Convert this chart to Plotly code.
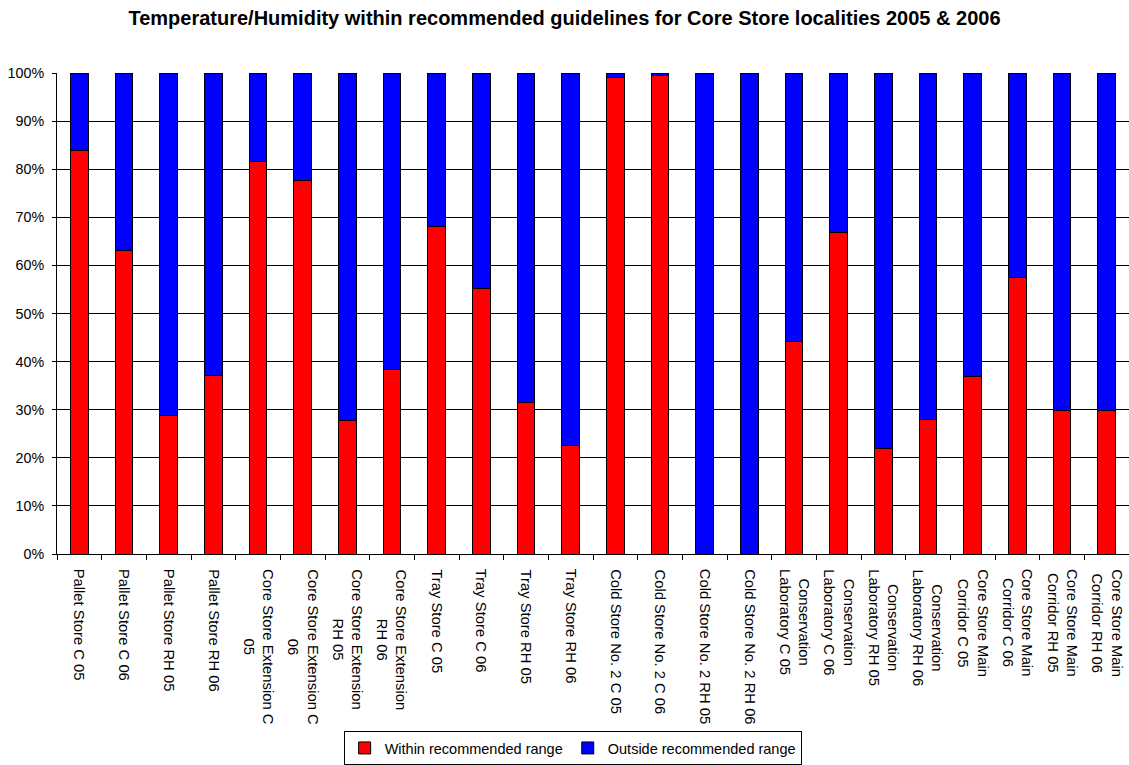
import plotly.graph_objects as go

# Monitoring localities (one bar each)
categories = [
    "Pallet Store C 05", "Pallet Store C 06", "Pallet Store RH 05", "Pallet Store RH 06",
    "Core Store Extension C 05", "Core Store Extension C 06",
    "Core Store Extension RH 05", "Core Store Extension RH 06",
    "Tray Store C 05", "Tray Store C 06", "Tray Store RH 05", "Tray Store RH 06",
    "Cold Store No. 2 C 05", "Cold Store No. 2 C 06",
    "Cold Store No. 2 RH 05", "Cold Store No. 2 RH 06",
    "Conservation Laboratory C 05", "Conservation Laboratory C 06",
    "Conservation Laboratory RH 05", "Conservation Laboratory RH 06",
    "Core Store Main Corridor C 05", "Core Store Main Corridor C 06",
    "Core Store Main Corridor RH 05", "Core Store Main Corridor RH 06",
]

# Axis labels as they wrap under the bars
tick_labels = [
    "Pallet Store C 05", "Pallet Store C 06", "Pallet Store RH 05", "Pallet Store RH 06",
    "Core Store Extension C<br>05", "Core Store Extension C<br>06",
    "Core Store Extension<br>RH 05", "Core Store Extension<br>RH 06",
    "Tray Store C 05", "Tray Store C 06", "Tray Store RH 05", "Tray Store RH 06",
    "Cold Store No. 2 C 05", "Cold Store No. 2 C 06",
    "Cold Store No. 2 RH 05", "Cold Store No. 2 RH 06",
    "Conservation<br>Laboratory C 05", "Conservation<br>Laboratory C 06",
    "Conservation<br>Laboratory RH 05", "Conservation<br>Laboratory RH 06",
    "Core Store Main<br>Corridor C 05", "Core Store Main<br>Corridor C 06",
    "Core Store Main<br>Corridor RH 05", "Core Store Main<br>Corridor RH 06",
]

# Percentage of readings within / outside the recommended range
within = [83.8, 63.1, 28.7, 37.2, 81.5, 77.7, 27.8, 38.4,
          68.0, 55.2, 31.5, 22.6, 99.0, 99.4, 0.0, 0.0,
          44.1, 66.8, 21.9, 28.0, 37.0, 57.4, 29.9, 29.8]
outside = [16.2, 36.9, 71.3, 62.8, 18.5, 22.3, 72.2, 61.6,
           32.0, 44.8, 68.5, 77.4, 1.0, 0.6, 100.0, 100.0,
           55.9, 33.2, 78.1, 72.0, 63.0, 42.6, 70.1, 70.2]

FONT = "Arial, 'Liberation Sans', sans-serif"

fig = go.Figure()
fig.add_trace(go.Bar(
    x=categories, y=within, name="Within recommended range",
    marker=dict(color="#FF0000", line=dict(color="black", width=1)),
))
fig.add_trace(go.Bar(
    x=categories, y=outside, name="Outside recommended range",
    marker=dict(color="#0000FF", line=dict(color="black", width=1)),
))

# Rotated category labels, lines centred within each label
for cat, lab in zip(categories, tick_labels):
    fig.add_annotation(
        x=cat, xref="x", y=-0.027, yref="paper",
        text=lab, textangle=90, showarrow=False,
        xanchor="center", yanchor="top", align="center",
        font=dict(family=FONT, size=14.8, color="black"),
    )

fig.update_layout(
    barmode="stack",
    bargap=0.6,
    width=1129, height=765,
    margin=dict(l=57, r=0, t=73, b=207),
    paper_bgcolor="white", plot_bgcolor="white",
    title=dict(
        text="<b>Temperature/Humidity within recommended guidelines for Core Store localities 2005 &amp; 2006</b>",
        x=0.5, xanchor="center", y=0.976, yanchor="middle",
        font=dict(family=FONT, size=20, color="black"),
    ),
    font=dict(family=FONT, size=14, color="black"),
    legend=dict(
        orientation="h", traceorder="normal",
        x=0.481, xanchor="center", y=-0.368, yanchor="top",
        bordercolor="black", borderwidth=1, bgcolor="white",
        font=dict(family=FONT, size=14.5, color="black"),
        itemwidth=30, tracegroupgap=0,
    ),
    showlegend=True,
)

fig.update_xaxes(
    type="category", showticklabels=False,
    ticks="outside", ticklen=5, tickcolor="black", tickson="boundaries",
    showline=True, linecolor="black", linewidth=1,
    showgrid=False, range=[-0.5, 23.5],
)
fig.update_yaxes(
    range=[0, 100], dtick=10, ticksuffix="%",
    ticks="outside", ticklen=4, tickcolor="black", ticklabelstandoff=5,
    showline=True, linecolor="black", linewidth=1,
    showgrid=True, gridcolor="black", gridwidth=1,
    zeroline=False,
    tickfont=dict(family=FONT, size=14.3, color="black"),
)

fig.write_html("out.html")
